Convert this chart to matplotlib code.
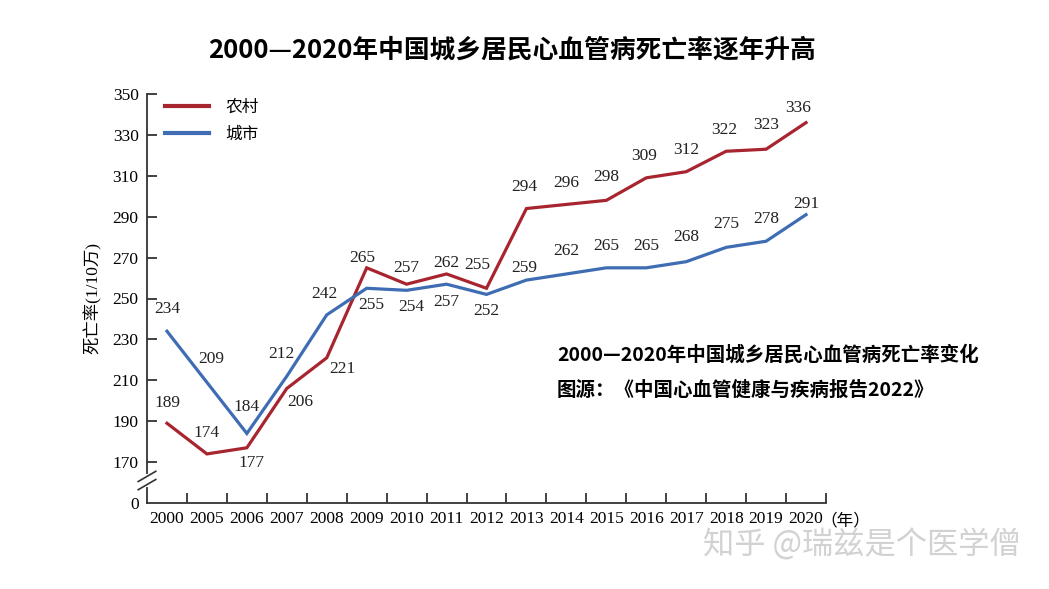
import matplotlib
matplotlib.use("Agg")
from matplotlib import pyplot as plt

# data
years = ["2000", "2005", "2006", "2007", "2008", "2009", "2010", "2011", "2012",
         "2013", "2014", "2015", "2016", "2017", "2018", "2019", "2020"]
rural = [189, 174, 177, 206, 221, 265, 257, 262, 255, 294, 296, 298, 309, 312, 322, 323, 336]
urban = [234, 209, 184, 212, 242, 255, 254, 257, 252, 259, 262, 265, 265, 268, 275, 278, 291]
ytick_vals = [170, 190, 210, 230, 250, 270, 290, 310, 330, 350]

# label offsets in pixels (dx, dy), tuned by eye
rural_off = [(0, 20), (0, 21), (5, -15), (13, -14), (16, -11), (-4, 10), (0, 16), (0, 11),
             (-9, 23), (-2, 22), (0, 21), (0, 23), (-2, 22), (0, 22), (-2, 21), (0, 24), (-8, 15)]
urban_off = [(0, 22), (4, 23), (0, 26), (-5, 22), (-2, 21), (5, -17), (5, -17), (0, -18),
             (0, -17), (-2, 12), (0, 23), (0, 22), (0, 22), (0, 25), (0, 23), (0, 22), (0, 11)]

RED = "#a8252f"
BLUE = "#3f6db3"
SERIF = ["Liberation Serif", "Noto Sans CJK SC"]
CJK = ["Noto Sans CJK SC", "DejaVu Sans"]

fig = plt.figure(figsize=(10.49, 5.89), dpi=100)
ax = fig.add_axes([147 / 1049, 1 - 503 / 589, (826 - 147) / 1049, (503 - 94) / 589])

x = list(range(len(years)))
ax.plot(x, rural, color=RED, lw=2.3, label="农村", solid_joinstyle="miter")
ax.plot(x, urban, color=BLUE, lw=2.3, label="城市", solid_joinstyle="miter")

px = 72 / 100
for i, v in enumerate(rural):
    dx, dy = rural_off[i]
    ax.annotate(str(v), (i, v), xytext=(dx * px, dy * px), textcoords="offset points",
                ha="center", va="center", fontsize=12.5, family="Liberation Serif", color="#222222")
for i, v in enumerate(urban):
    dx, dy = urban_off[i]
    ax.annotate(str(v), (i, v), xytext=(dx * px, dy * px), textcoords="offset points",
                ha="center", va="center", fontsize=12.5, family="Liberation Serif", color="#222222")

ax.set_xlim(-0.5, len(years) - 0.5)
ax.set_ylim(150, 350)
ax.set_xticks([i + 0.5 for i in range(len(years))])
ax.set_xticklabels([])
ax.set_xticks(x, minor=True)
ax.set_xticklabels(years, minor=True, family="Liberation Serif", fontsize=12.5)
ax.tick_params(axis="x", which="major", direction="in", length=7, width=1.3, color="#333333")
ax.tick_params(axis="x", which="minor", length=0, pad=6)
ax.set_yticks([150] + ytick_vals)
ax.set_yticklabels(["0"] + [str(v) for v in ytick_vals], family="Liberation Serif", fontsize=12.5)
ax.tick_params(axis="y", direction="in", length=7, width=1.3, color="#333333", pad=6)
ax.yaxis.get_major_ticks()[0].tick1line.set_visible(False)

for s in ["top", "right"]:
    ax.spines[s].set_visible(False)
for s in ["left", "bottom"]:
    ax.spines[s].set_linewidth(1.3)
    ax.spines[s].set_color("#333333")

# axis break
ax.plot([-0.5, -0.5], [159, 163], color="white", lw=3, clip_on=False, zorder=5)
for yb in [159, 163]:
    ax.plot([-0.72, -0.28], [yb - 2.5, yb + 2.5], color="#333333", lw=1.2, clip_on=False, zorder=6)

ax.set_ylabel("死亡率(1/10万)", family=SERIF, fontsize=12.5, labelpad=8)
fig.text(845 / 1049, 1 - 521 / 589, "（年）", family=SERIF, fontsize=12, ha="center", va="center")

leg = ax.legend(loc="upper left", bbox_to_anchor=(0.005, 1.025), frameon=False,
                prop={"family": CJK, "size": 12}, handlelength=2.6, labelspacing=0.6, handletextpad=1.0)
for line in leg.get_lines():
    line.set_linewidth(3)

fig.text(512 / 1049, 1 - 50 / 589, "2000—2020年中国城乡居民心血管病死亡率逐年升高",
         family=CJK, fontsize=18.5, fontweight="bold", ha="center", va="center")
fig.text(557 / 1049, 1 - 355 / 589, "2000—2020年中国城乡居民心血管病死亡率变化",
         family=CJK, fontsize=14, fontweight="bold", ha="left", va="center")
fig.text(557 / 1049, 1 - 390 / 589, "图源：《中国心血管健康与疾病报告2022》",
         family=CJK, fontsize=14, fontweight="bold", ha="left", va="center")
fig.text(862 / 1049, 1 - 545 / 589, "知乎 @瑞兹是个医学僧",
         family=CJK, fontsize=22.5, color="#d2d2d2", ha="center", va="center")

fig.savefig("out.png", dpi=100)
